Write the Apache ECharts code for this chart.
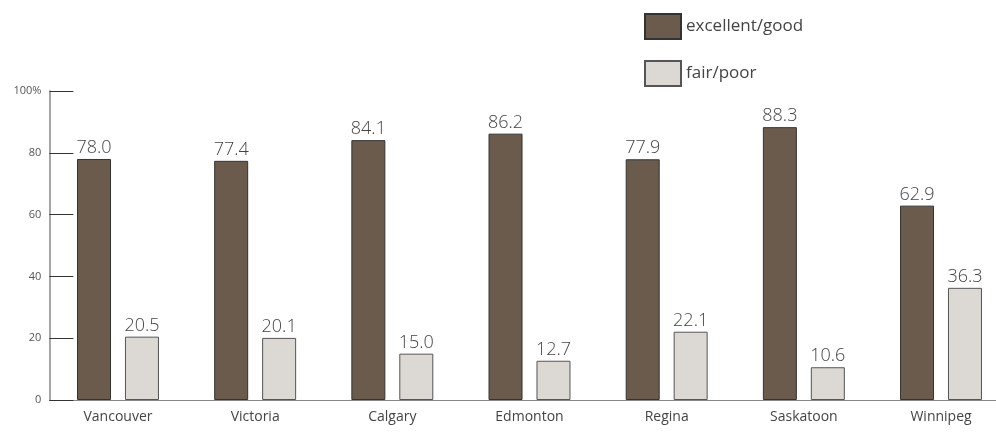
<!DOCTYPE html>
<html><head><meta charset="utf-8">
<script src="https://cdn.jsdelivr.net/npm/echarts@6/dist/echarts.min.js"></script>
<style>html,body{margin:0;padding:0;background:#fff}#c{width:996px;height:435px}</style>
</head><body><div id="c"></div>
<script>
const categories = ['Vancouver','Victoria','Calgary','Edmonton','Regina','Saskatoon','Winnipeg'];
const goodValues = [78.0, 77.4, 84.1, 86.2, 77.9, 88.3, 62.9];
const poorValues = [20.5, 20.1, 15.0, 12.7, 22.1, 10.6, 36.3];
const seriesNames = ['excellent/good', 'fair/poor'];
const yTicks = [0, 20, 40, 60, 80, 100];

const chart = echarts.init(document.getElementById('c'));
const labelStyle = {show:true, position:'top', distance:2, fontSize:18, color:'#444', fontFamily:'Open Sans', fontWeight:300, formatter:p=>p.value.toFixed(1)};
chart.setOption({
  animation:false,
  textStyle:{fontFamily:'Open Sans'},
  legend:{orient:'vertical', left:639, top:8, itemWidth:36, itemHeight:25, itemGap:20, icon:'rect',
    textStyle:{fontSize:17, color:'#444'},
    data:seriesNames},
  grid:{left:49.4, width:960.2, top:91, bottom:35, containLabel:false, outerBoundsMode:'none'},
  xAxis:{type:'category', data:categories,
    axisLine:{lineStyle:{color:'#888', width:1}}, axisTick:{show:false},
    axisLabel:{fontSize:14, color:'#444', margin:10}},
  yAxis:{type:'value', min:0, max:100, interval:20,
    axisLine:{show:true, lineStyle:{color:'#888', width:1.5}},
    axisTick:{show:true, inside:true, length:24, lineStyle:{color:'#333'}},
    splitLine:{show:false},
    axisLabel:{fontSize:11, color:'#555', margin:8, formatter:v=> v===yTicks[yTicks.length-1] ? v+'%' : String(v)}},
  series:[
    {name:seriesNames[0], type:'bar', data:goodValues, barWidth:34, barGap:'41%',
     itemStyle:{color:'#6b5b4c', borderColor:'#333', borderWidth:1}, label:labelStyle},
    {name:seriesNames[1], type:'bar', data:poorValues, barWidth:34,
     itemStyle:{color:'#dcd8d4', borderColor:'#555', borderWidth:1}, label:labelStyle}
  ]
});
</script></body></html>
